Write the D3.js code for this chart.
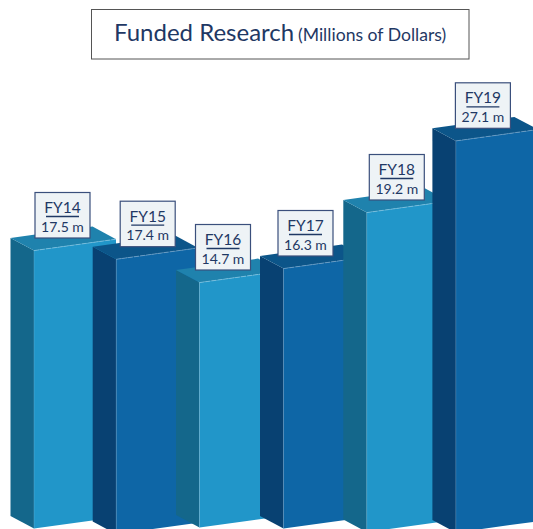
<!DOCTYPE html>
<html>
<head>
<meta charset="utf-8">
<script src="https://cdn.jsdelivr.net/npm/d3@7"></script>
<style>
  html, body { margin: 0; padding: 0; background: #fff; }
  svg { display: block; }
  text { font-family: Lato, sans-serif; fill: #1f3864; }
</style>
</head>
<body>
<div id="mainContainer"></div>
<script>
var years = ["FY14", "FY15", "FY16", "FY17", "FY18", "FY19"];
var funding = [17.5, 17.4, 14.7, 16.3, 19.2, 27.1];

var width = 533, height = 529;

// the drawn bars are not strictly proportional, so the scale follows the picture
var yscale = d3.scaleLinear()
    .domain([14.7, 16.3, 17.4, 17.5, 19.2, 27.1])
    .range([270, 256, 246.7, 238, 200, 128.3]);

var xscale = d3.scaleOrdinal()
    .domain(years)
    .range([10.5, 92.7, 176, 260, 343.3, 432.4]);

var baseScale = d3.scaleOrdinal()
    .domain(years)
    .range([516, 521.5, 515, 516, 519.5, 520]);

var labelShift = d3.scaleOrdinal()
    .domain(years)
    .range([24.5, 27.5, 19.5, 18, 26, 23]);

// 3d offsets
var sideW = 23.5, sideH = 12.6, frontW = 82, riseH = 11.4;

var palette = [
    { front: "#2196c9", side: "#14678b", top: "#1f82ad", edge: "#7cc0de" },
    { front: "#0e66a6", side: "#084172", top: "#0c5589", edge: "#6f9fc6" }
];

var svg = d3.select("#mainContainer").append("svg")
    .attr("width", width)
    .attr("height", height)
    .style("overflow", "hidden");

var bars = years.map(function (d, i) {
    return { year: d, value: funding[i], x: xscale(d), top: yscale(funding[i]), base: baseScale(d), colors: palette[i % 2] };
});

var line = d3.line();

var bar = svg.selectAll("g.bar")
    .data(bars)
    .enter().append("g")
    .attr("class", "bar");

// side face
bar.append("path")
    .attr("fill", function (d) { return d.colors.side; })
    .attr("d", function (d) {
        return line([[d.x, d.top], [d.x + sideW, d.top + sideH], [d.x + sideW, d.base + sideH], [d.x, d.base]]) + "Z";
    });

// top face
bar.append("path")
    .attr("fill", function (d) { return d.colors.top; })
    .attr("d", function (d) {
        return line([[d.x, d.top], [d.x + sideW, d.top + sideH], [d.x + sideW + frontW, d.top + sideH - riseH], [d.x + frontW, d.top - riseH]]) + "Z";
    });

// front face
bar.append("path")
    .attr("fill", function (d) { return d.colors.front; })
    .attr("d", function (d) {
        return line([[d.x + sideW, d.top + sideH], [d.x + sideW + frontW, d.top + sideH - riseH], [d.x + sideW + frontW, d.base + sideH - riseH], [d.x + sideW, d.base + sideH]]) + "Z";
    });

// light edges along the front face, the upright one is fainter
bar.append("path")
    .attr("fill", "none")
    .attr("stroke", function (d) { return d.colors.edge; })
    .attr("stroke-width", 0.7)
    .attr("stroke-opacity", 0.45)
    .attr("d", function (d) {
        return line([[d.x + sideW, d.base + sideH], [d.x + sideW, d.top + sideH]]);
    });

bar.append("path")
    .attr("fill", "none")
    .attr("stroke", function (d) { return d.colors.edge; })
    .attr("stroke-width", 0.8)
    .attr("stroke-dasharray", "5 1")
    .attr("d", function (d) {
        return line([[d.x + sideW, d.top + sideH], [d.x + sideW + frontW, d.top + sideH - riseH]]);
    });

// value labels go on top of every bar
var boxW = 55, boxH = 45.5;

var label = svg.selectAll("g.label")
    .data(bars)
    .enter().append("g")
    .attr("class", "label")
    .attr("transform", function (d) {
        return "translate(" + (d.x + labelShift(d.year)) + "," + (d.top - boxH) + ")";
    });

label.append("rect")
    .attr("width", boxW)
    .attr("height", boxH)
    .attr("fill", "#eef3f6")
    .attr("stroke", "#3a4f7c")
    .attr("stroke-width", 1.2);

label.append("line")
    .attr("x1", boxW / 2 - 16.5)
    .attr("x2", boxW / 2 + 16.5)
    .attr("y1", 24)
    .attr("y2", 24)
    .attr("stroke", "#1f3864")
    .attr("stroke-width", 1.3);

// both lines in one text element
var labelText = label.append("text")
    .attr("text-anchor", "middle");

labelText.append("tspan")
    .attr("x", boxW / 2)
    .attr("y", 20.5)
    .attr("font-size", "15.5px")
    .text(function (d) { return d.year; });

labelText.append("tspan")
    .attr("x", boxW / 2)
    .attr("y", 39)
    .attr("font-size", "14px")
    .text(function (d) { return d.value.toFixed(1) + " m"; });

// title
svg.append("rect")
    .attr("x", 91.5)
    .attr("y", 9.5)
    .attr("width", 377.5)
    .attr("height", 49.5)
    .attr("fill", "#fff")
    .attr("stroke", "#555")
    .attr("stroke-width", 1);

var title = svg.append("text")
    .attr("x", 114)
    .attr("y", 41);

title.append("tspan")
    .attr("font-size", "24px")
    .text("Funded Research");

title.append("tspan")
    .attr("x", 298)
    .attr("font-size", "17.6px")
    .text("(Millions of Dollars)");
</script>
</body>
</html>
